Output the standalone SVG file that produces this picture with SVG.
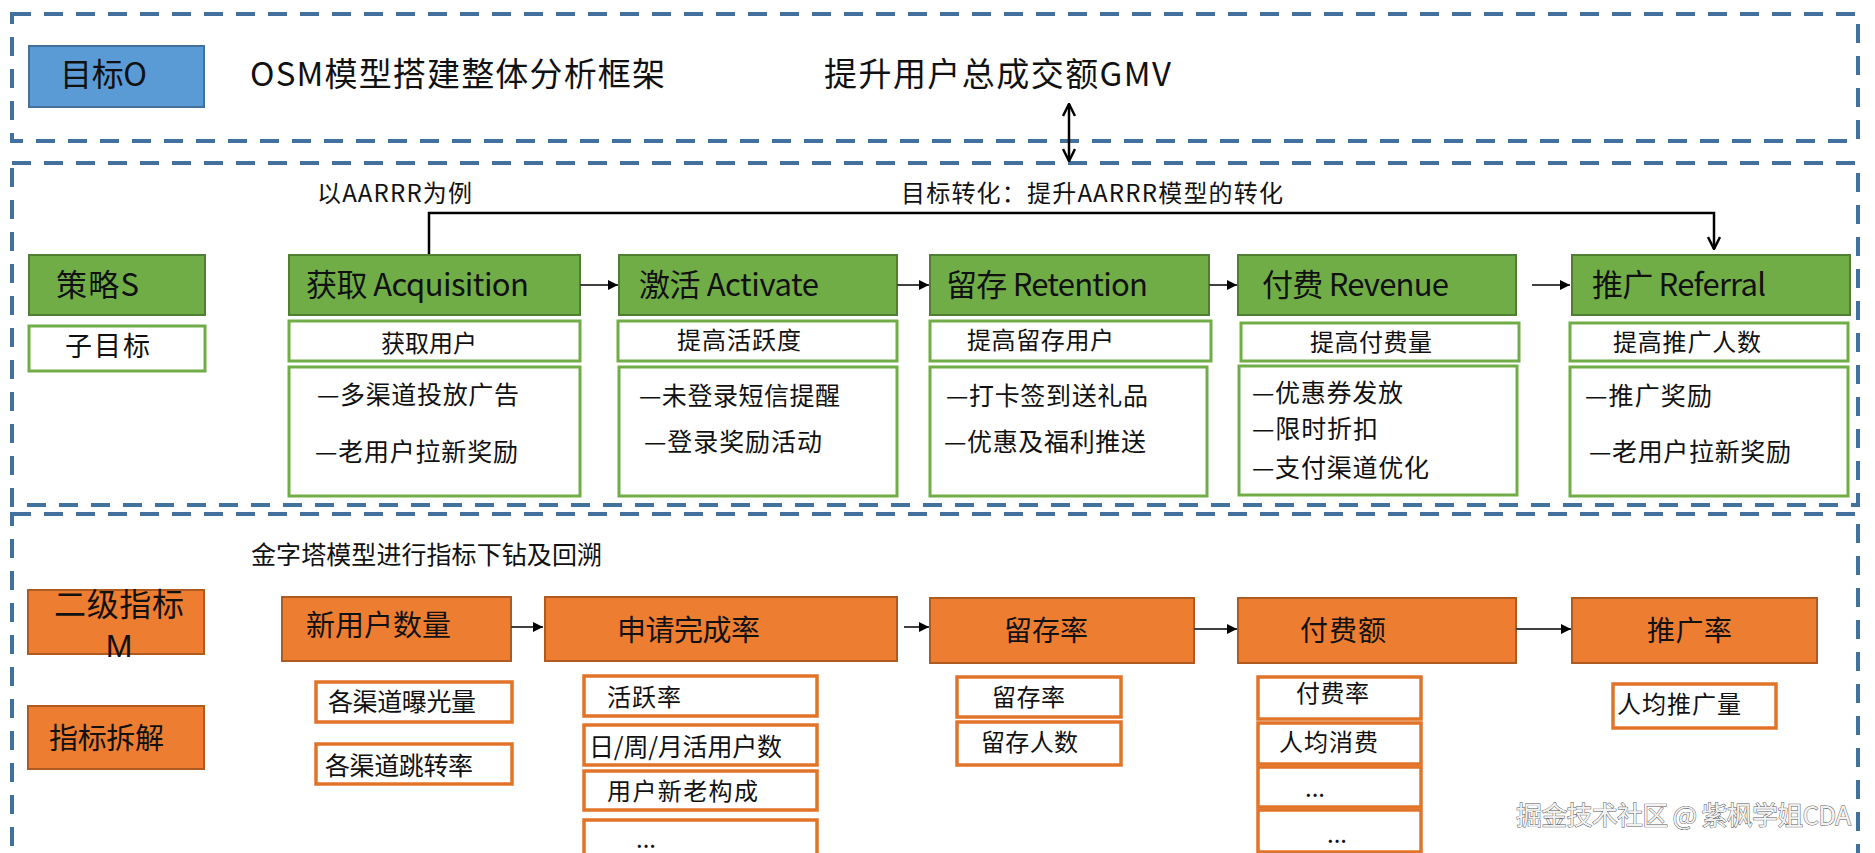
<svg xmlns="http://www.w3.org/2000/svg" width="1875" height="853" viewBox="0 0 1875 853">
<style>
text{font-family:"Noto Sans CJK SC","Microsoft YaHei","Liberation Sans",sans-serif;fill:#111;}
.dash{fill:none;stroke:#41719C;stroke-width:4;stroke-dasharray:19 13;}
.blue{fill:#5B9BD5;stroke:#41719C;stroke-width:2;}
.green{fill:#70AD47;stroke:#507E32;stroke-width:2;}
.gsub{fill:#fff;stroke:#70AD47;stroke-width:3;}
.orange{fill:#ED7D31;stroke:#AE5A21;stroke-width:2;}
.osub{fill:#fff;stroke:#E2742A;stroke-width:3.5;}
.t31{font-size:31px;}
.t24{font-size:24px;}
.t25{font-size:25px;}
.conn{fill:none;stroke:#404040;stroke-width:2;}
.bk{fill:none;stroke:#000;stroke-width:2.5;}
.wm{font-size:26px;fill:#f2f2f2;stroke:#555;stroke-width:0.9;paint-order:stroke;}
</style>
<defs>
<marker id="tri" viewBox="0 0 10 10" refX="10" refY="5" markerWidth="10" markerHeight="10" markerUnits="userSpaceOnUse" orient="auto">
<path d="M0,0 L10,5 L0,10 z" fill="#000"/>
</marker>
<marker id="vee" viewBox="0 0 14 14" refX="13" refY="7" markerWidth="14" markerHeight="14" markerUnits="userSpaceOnUse" orient="auto-start-reverse">
<path d="M1,1 L13,7 L1,13" fill="none" stroke="#000" stroke-width="2.5"/>
</marker>
</defs>

<g id="frames">
<rect class="dash" x="12" y="14" width="1846" height="127"/>
<rect class="dash" x="12" y="163" width="1846" height="342"/>
<rect class="dash" x="12" y="514" width="1846" height="400"/>
</g>

<g id="objective">
<rect class="blue" x="29" y="46" width="175" height="61"/>
<text x="60" y="86" font-size="32" textLength="87">目标O</text>
</g>
<g id="title"><text x="250" y="86" font-size="33" textLength="415">OSM模型搭建整体分析框架</text></g>
<g id="gmv"><text x="824" y="86" font-size="33" textLength="347">提升用户总成交额GMV</text></g>
<g id="note-aarrr"><text x="317" y="202" class="t24" textLength="155">以AARRR为例</text></g>
<g id="note-goal"><text x="901" y="202" class="t24" textLength="382">目标转化：提升AARRR模型的转化</text></g>

<g id="strategy">
<rect class="green" x="29" y="255" width="176" height="60"/>
<text x="56" y="296" class="t31" textLength="83">策略S</text>
<rect class="gsub" x="29" y="326" width="176" height="45"/>
<text x="65" y="356" font-size="27" textLength="85">子目标</text>
</g>

<g id="acquisition">
<rect class="green" x="289" y="255" width="291" height="60"/>
<text x="306" y="296" class="t31" textLength="223">获取 Acquisition</text>
<rect class="gsub" x="289" y="321" width="291" height="40"/>
<text x="381" y="352" class="t24" textLength="96">获取用户</text>
<rect class="gsub" x="289" y="367" width="291" height="129"/>
<text x="317" y="404" class="t25" textLength="202">—多渠道投放广告</text>
<text x="315" y="461" class="t25" textLength="203">—老用户拉新奖励</text>
</g>

<g id="activate">
<rect class="green" x="619" y="255" width="278" height="60"/>
<text x="639" y="296" class="t31" textLength="180">激活 Activate</text>
<rect class="gsub" x="618" y="321" width="279" height="40"/>
<text x="677" y="349" class="t24" textLength="124">提高活跃度</text>
<rect class="gsub" x="619" y="367" width="278" height="129"/>
<text x="639" y="405" class="t25" textLength="201">—未登录短信提醒</text>
<text x="644" y="451" class="t25" textLength="178">—登录奖励活动</text>
</g>

<g id="retention">
<rect class="green" x="930" y="255" width="279" height="60"/>
<text x="946" y="296" class="t31" textLength="202">留存 Retention</text>
<rect class="gsub" x="930" y="321" width="281" height="40"/>
<text x="967" y="349" class="t24" textLength="147">提高留存用户</text>
<rect class="gsub" x="930" y="367" width="277" height="129"/>
<text x="946" y="405" class="t25" textLength="202">—打卡签到送礼品</text>
<text x="944" y="451" class="t25" textLength="202">—优惠及福利推送</text>
</g>

<g id="revenue">
<rect class="green" x="1238" y="255" width="278" height="60"/>
<text x="1262" y="296" class="t31" textLength="187">付费 Revenue</text>
<rect class="gsub" x="1241" y="323" width="278" height="38"/>
<text x="1310" y="351" class="t24" textLength="122">提高付费量</text>
<rect class="gsub" x="1239" y="366" width="278" height="129"/>
<text x="1252" y="402" class="t25" textLength="151">—优惠券发放</text>
<text x="1252" y="438" class="t25" textLength="126">—限时折扣</text>
<text x="1252" y="477" class="t25" textLength="177">—支付渠道优化</text>
</g>

<g id="referral">
<rect class="green" x="1572" y="255" width="278" height="60"/>
<text x="1592" y="296" class="t31" textLength="174">推广 Referral</text>
<rect class="gsub" x="1570" y="323" width="278" height="38"/>
<text x="1613" y="351" class="t24" textLength="148">提高推广人数</text>
<rect class="gsub" x="1570" y="367" width="278" height="129"/>
<text x="1585" y="405" class="t25" textLength="127">—推广奖励</text>
<text x="1589" y="461" class="t25" textLength="202">—老用户拉新奖励</text>
</g>

<g id="note-pyramid"><text x="251" y="564" class="t25" textLength="351">金字塔模型进行指标下钻及回溯</text></g>

<g id="metric-m">
<rect class="orange" x="28" y="590" width="176" height="64"/>
<text x="54" y="616" font-size="32" textLength="130">二级指标</text>
<text x="119" y="657" font-size="32" text-anchor="middle" style="font-family:'Liberation Sans',Arial,sans-serif">M</text>
</g>
<g id="metric-split">
<rect class="orange" x="28" y="706" width="176" height="63"/>
<text x="49" y="749" font-size="29" textLength="115">指标拆解</text>
</g>

<g id="new-users">
<rect class="orange" x="282" y="597" width="229" height="64"/>
<text x="306" y="636" font-size="29" textLength="145">新用户数量</text>
<rect class="osub" x="316" y="682" width="196" height="40"/>
<text x="328" y="711" class="t25" textLength="148">各渠道曝光量</text>
<rect class="osub" x="316" y="744" width="196" height="40"/>
<text x="325" y="775" class="t25" textLength="148">各渠道跳转率</text>
</g>

<g id="apply-rate">
<rect class="orange" x="545" y="597" width="352" height="64"/>
<text x="617" y="641" font-size="29" textLength="143">申请完成率</text>
<rect class="osub" x="584" y="676" width="233" height="40"/>
<text x="607" y="706" class="t24" textLength="74">活跃率</text>
<rect class="osub" x="584" y="725" width="233" height="40"/>
<text x="589" y="756" class="t25" textLength="193">日/周/月活用户数</text>
<rect class="osub" x="584" y="771" width="233" height="39"/>
<text x="607" y="800" class="t24" textLength="151">用户新老构成</text>
<rect class="osub" x="584" y="820" width="233" height="50"/>
<text x="636" y="848" class="t24">...</text>
</g>

<g id="retention-rate">
<rect class="orange" x="930" y="598" width="264" height="65"/>
<text x="1004" y="641" font-size="28" textLength="84">留存率</text>
<rect class="osub" x="957" y="677" width="164" height="40"/>
<text x="992" y="706" class="t24" textLength="73">留存率</text>
<rect class="osub" x="957" y="722" width="164" height="43"/>
<text x="981" y="751" class="t24" textLength="97">留存人数</text>
</g>

<g id="payment">
<rect class="orange" x="1238" y="598" width="278" height="65"/>
<text x="1300" y="641" font-size="28" textLength="86">付费额</text>
<rect class="osub" x="1258" y="677" width="163" height="42"/>
<text x="1296" y="702" class="t24" textLength="73">付费率</text>
<rect class="osub" x="1258" y="723" width="163" height="41"/>
<text x="1279" y="751" class="t24" textLength="99">人均消费</text>
<rect class="osub" x="1258" y="767" width="163" height="40"/>
<text x="1305" y="797" class="t24">...</text>
<rect class="osub" x="1258" y="810" width="163" height="42"/>
<text x="1327" y="843" class="t24">...</text>
</g>

<g id="referral-rate">
<rect class="orange" x="1572" y="598" width="245" height="65"/>
<text x="1647" y="641" font-size="28" textLength="85">推广率</text>
<rect class="osub" x="1613" y="684" width="163" height="44"/>
<text x="1617" y="713" class="t24" textLength="124">人均推广量</text>
</g>

<g id="connectors">
<line class="bk" x1="1069" y1="104" x2="1069" y2="161" marker-start="url(#vee)" marker-end="url(#vee)"/>
<path class="bk" d="M429,254 V213 H1714 V249" stroke-width="2" marker-end="url(#vee)"/>
<line class="conn" x1="580" y1="285" x2="618" y2="285" marker-end="url(#tri)"/>
<line class="conn" x1="897" y1="285" x2="929" y2="285" marker-end="url(#tri)"/>
<line class="conn" x1="1209" y1="285" x2="1237" y2="285" marker-end="url(#tri)"/>
<line class="conn" x1="1532" y1="285" x2="1570" y2="285" marker-end="url(#tri)"/>
<line class="conn" x1="511" y1="627" x2="543" y2="627" marker-end="url(#tri)"/>
<line class="conn" x1="904" y1="627" x2="929" y2="627" marker-end="url(#tri)"/>
<line class="conn" x1="1194" y1="629" x2="1237" y2="629" marker-end="url(#tri)"/>
<line class="conn" x1="1516" y1="629" x2="1571" y2="629" marker-end="url(#tri)"/>
</g>

<g id="credit"><text x="1516" y="825" class="wm" textLength="335">掘金技术社区 @ 紫枫学姐CDA</text></g>
</svg>
